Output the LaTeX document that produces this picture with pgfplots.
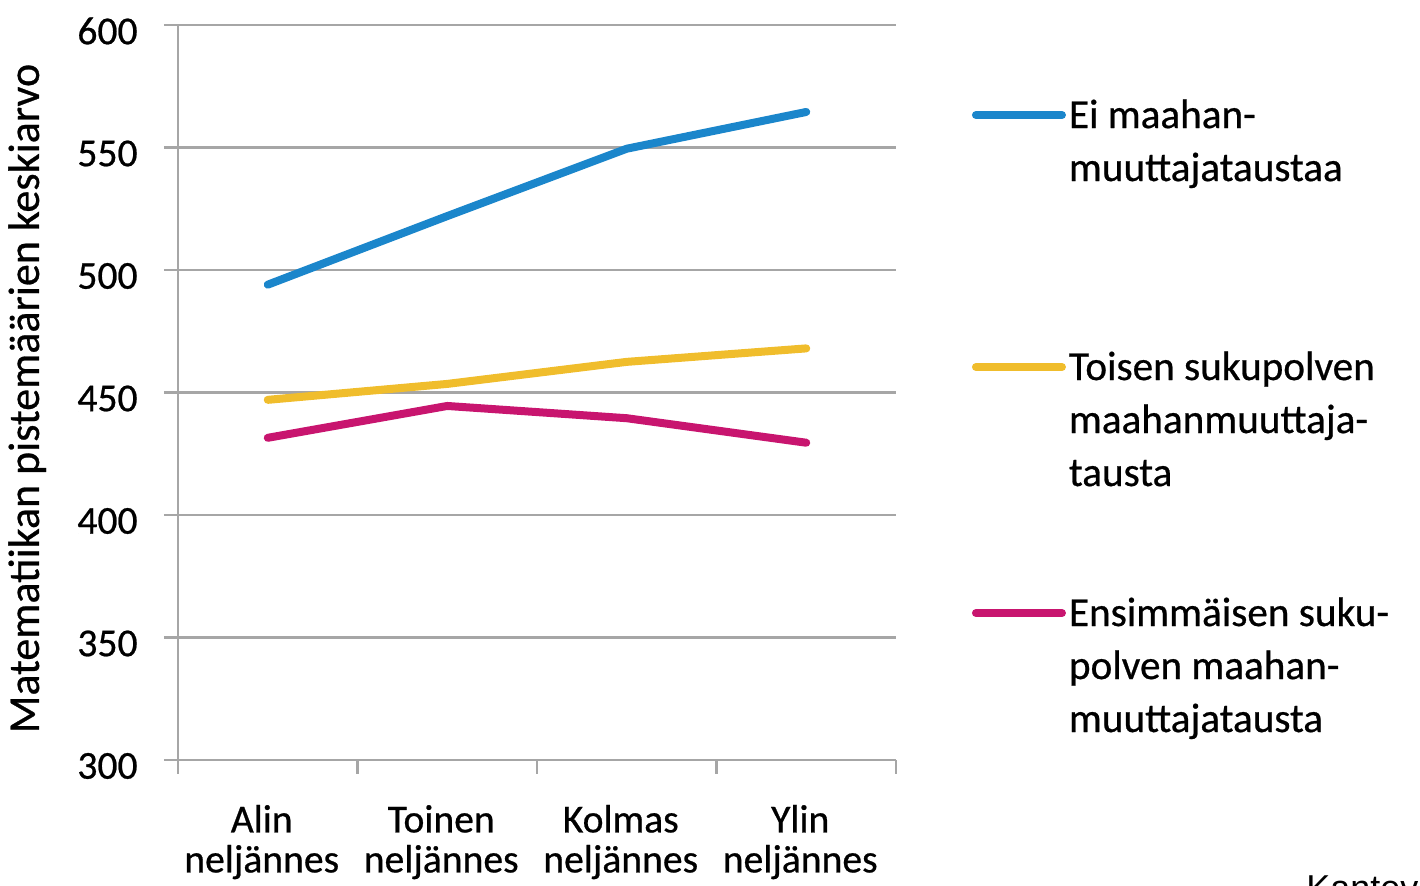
\documentclass[border=0pt]{standalone}
\usepackage{fontspec}
\setmainfont{Carlito}[FakeBold=0.6]
\newfontfamily\arialfont{Liberation Sans}
\usepackage{pgfplots}
\pgfplotsset{compat=1.18}
\definecolor{cblue}{HTML}{1B86CB}
\definecolor{cyellow}{HTML}{F0BD2C}
\definecolor{cmag}{HTML}{C8156F}
\definecolor{cgrid}{HTML}{A6A6A6}
\newcommand{\lent}[2]{\begin{tabular}[t]{@{}l@{}}\rule{0pt}{#2}#1\end{tabular}}
\begin{document}
\begin{tikzpicture}
\begin{axis}[
  scale only axis,
  width=359pt, height=367.5pt,
  xmin=-0.5, xmax=3.5,
  ymin=300, ymax=600,
  ytick={300,350,...,600},
  xtick={-0.5,0.5,1.5,2.5,3.5},
  xticklabels={},
  extra x ticks={0,1,2,3},
  extra x tick labels={{\rule{0pt}{15pt}Alin\\neljännes},{\rule{0pt}{15pt}Toinen\\neljännes},{\rule{0pt}{15pt}Kolmas\\neljännes},{\rule{0pt}{15pt}Ylin\\neljännes}},
  extra x tick style={major tick length=0pt, grid=none},
  axis lines*=left,
  axis line style={cgrid, line width=1.2pt},
  tick style={cgrid, line width=1.2pt},
  tick align=outside,
  major tick length=7pt,
  ymajorgrids,
  grid style={cgrid, line width=1.2pt},
  /pgf/number format/assume math mode=true,
  tick label style={font=\fontsize{19.8}{20}\selectfont},
  yticklabel style={anchor=east, inner sep=0pt, xshift=-13pt, yshift=-3pt},
  xticklabel style={align=center, anchor=north, inner sep=0pt, yshift=-21pt, xshift=-3pt},
  ylabel={Matematiikan pistemäärien keskiarvo},
  ylabel style={at={(axis description cs:-0.2368,0.4918)}, anchor=north, inner sep=0pt, rotate=0, font=\fontsize{22}{26}\selectfont},
  legend cell align=left,
  legend style={at={(rel axis cs:1.1058,0.9103)}, anchor=north west, draw=none, fill=none,
    inner sep=0pt, outer sep=0pt, row sep=0pt, column sep=1.5pt,
    cells={anchor=base west},
    nodes={inner sep=0pt, outer sep=0pt, font=\fontsize{20.6}{26.5}\selectfont}},
  legend image code/.code={\draw[#1, line cap=round] (0pt,6.5pt) -- (43pt,6.5pt);},
  every axis plot/.append style={line width=4pt, line join=round, line cap=round},
]
\addplot[cblue] coordinates {(0,494) (1,522) (2,549.5) (3,564.5)};
\addlegendentry{\lent{Ei maahan-\\muuttajataustaa}{18.55pt}}
\addplot[cyellow] coordinates {(0,447) (1,453.5) (2,462.5) (3,468)};
\addlegendentry{\lent{Toisen sukupolven\\maahanmuuttaja-\\tausta}{124.5pt}}
\addplot[cmag] coordinates {(0,431.5) (1,444.5) (2,439.5) (3,429.5)};
\addlegendentry{\lent{Ensimmäisen suku-\\polven maahan-\\muuttajatausta}{121.5pt}}
\coordinate (bl) at (rel axis cs:0,0);
\end{axis}
\node[anchor=base west, inner sep=0pt, font=\fontsize{18}{20}\selectfont\arialfont] at ([shift={(564pt,-70.5pt)}]bl) {Kantev};
\pgfresetboundingbox
\path[use as bounding box] ([shift={(-89pt,-63pt)}]bl) rectangle ([shift={(621pt,380pt)}]bl);
\end{tikzpicture}
\end{document}
